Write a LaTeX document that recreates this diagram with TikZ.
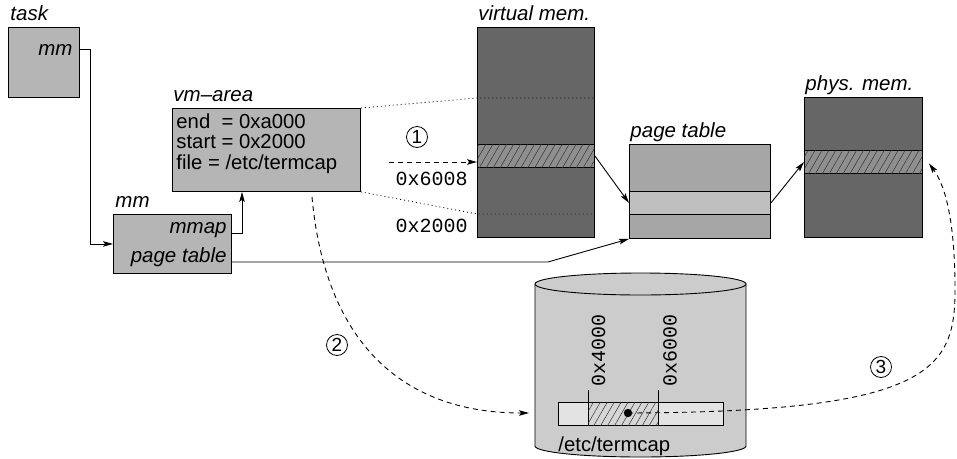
\documentclass[tikz,border=0pt]{standalone}
\usepackage{fontspec}
\setmainfont{Liberation Sans}
\setmonofont{Liberation Mono}
\usetikzlibrary{patterns.meta,arrows.meta}

\definecolor{boxgray}{gray}{0.71}
\definecolor{memgray}{gray}{0.40}
\definecolor{bandgray}{gray}{0.56}
\definecolor{ptgray}{gray}{0.65}
\definecolor{ptlight}{gray}{0.75}
\definecolor{diskgray}{gray}{0.80}
\definecolor{barlight}{gray}{0.89}
\definecolor{barhatch}{gray}{0.84}

\begin{document}
\begin{tikzpicture}[x=1pt, y=-1pt, line width=0.9pt,
    font=\fontsize{20.3}{24}\selectfont,
    box/.style={draw, fill=boxgray, inner sep=0, anchor=north west},
    mem/.style={draw, inner sep=0, anchor=north west},
    hatch/.style={pattern={Lines[angle=60, distance=6pt, line width=0.5pt]}, pattern color=black!80},
    title/.style={font=\fontsize{20.5}{24}\selectfont\itshape, anchor=base west, inner sep=0},
    field/.style={font=\fontsize{20.5}{24}\selectfont\itshape, anchor=base east, inner sep=0},
    line/.style={anchor=base west, inner sep=0},
    addr/.style={font=\fontsize{20}{24}\selectfont\ttfamily, inner sep=0},
    num/.style={circle, draw, line width=0.8pt, inner sep=0, minimum size=21pt, font=\fontsize{19}{20}\selectfont},
    arr/.style={-{Stealth[length=10pt, width=5.5pt, inset=2pt]}},
    dashline/.style={dash pattern=on 5pt off 4pt},
    dots/.style={line width=0.9pt, dash pattern=on 0.9pt off 3.1pt}]
    \useasboundingbox (0,0) rectangle (957,458);

    % task and mm structures
    \node[box, minimum width=71, minimum height=70] (task) at (8,27) {};
    \node[title] at (10,20) {task};
    \node[field] (tmm) at (73,55) {mm};
    \node[box, minimum width=118, minimum height=59] (mm) at (113,214) {};
    \node[title] at (115,207) {mm};
    \node[field] (mmap) at (227,233) {mmap};
    \node[field] (ptab) at (227,262) {page table};

    % vm-area
    \node[box, minimum width=188, minimum height=83] (vma) at (172,108) {};
    \node[title] at (173,101) {vm--area};
    \node[line] at (176,128) {end\ \ = 0xa000};
    \node[line] at (176,148) {start = 0x2000};
    \node[line] at (176,169) {file = /etc/termcap};

    % virtual memory
    \node[mem, fill=memgray, minimum width=117, minimum height=210] (vmem) at (477,27) {};
    \node[mem, fill=bandgray, postaction={hatch}, minimum width=117, minimum height=23] (vband) at (477,144) {};
    \node[title] at (478,20) {virtual mem.};
    \node[addr, anchor=base east] at (468,185) {0x6008};
    \node[addr, anchor=base east] at (468,232) {0x2000};

    % page table
    \node[mem, fill=ptgray, minimum width=141, minimum height=94] (ptbl) at (629,144) {};
    \node[mem, fill=ptlight, minimum width=141, minimum height=23] (pband) at (629,191) {};
    \node[title] at (630,137) {page table};

    % physical memory
    \node[mem, fill=memgray, minimum width=118, minimum height=140] (pmem) at (804,97) {};
    \node[mem, fill=bandgray, postaction={hatch}, minimum width=118, minimum height=23] (pmband) at (804,150) {};
    \node[title] at (805,90) {phys. mem.};

    % disk with the file
    \draw[fill=diskgray] (535,284) -- (535,446)
        arc[start angle=180, end angle=0, x radius=105.5, y radius=11] -- (746,284);
    \draw[fill=diskgray] (640.5,284) ellipse[x radius=105.5, y radius=11];
    \node[mem, fill=barlight, minimum width=165, minimum height=23] (fbar) at (558,402) {};
    \node[mem, fill=barhatch, postaction={hatch}, minimum width=70, minimum height=23] (fpart) at (588,402) {};
    \draw (fpart.north west) -- ++(0,-12);
    \draw (fpart.north east) -- ++(0,-12);
    \node[addr, rotate=90, anchor=west] at (598.5,387) {0x4000};
    \node[addr, rotate=90, anchor=west] at (670,387) {0x6000};
    \node[anchor=base west, inner sep=0] at (558,451) {/etc/termcap};
    \fill (628,413) circle[radius=4.2] coordinate (dot);

    % free ends of the dashed connectors
    \coordinate (vtop) at (477,98);
    \coordinate (vbot) at (477,214);
    \coordinate (fault) at (389,162);
    \coordinate (fileref) at (312,197);
    \coordinate (diskin) at (529,413);

    % Pointers
    \draw[arr] (task.east |- tmm) -| ([xshift=-23pt]mm.west) -- (mm.west);
    \draw[arr] (mm.east |- mmap.base) -| ([xshift=70pt]vma.south west);
    \draw[arr] (mm.east |- ptab.base) -- ++(316,0) -- (ptbl.south west);
    \draw[arr] (vband.east) -- (pband.west);
    \draw[arr] (pband.east) -- (pmband.west);
    \foreach \a/\b in {vma.north east/vtop, vma.south east/vbot}
        \draw[dots] (\a) -- (\b) -- (\b -| vmem.east);

    % Steps
    \draw[arr, dashline] (fault) -- (vband.west |- fault);
    \node[num] (n1) at (417,137) {1};
    \draw[arr, dashline] (fileref) .. controls (325,340) and (400,413) .. (diskin);
    \node[num] (n2) at (337,345) {2};
    \draw[arr, dashline] (dot) .. controls (930,412) and (955,370) .. (955,290)
        .. controls (955,220) and (945,185) .. ([xshift=6pt,yshift=-1.5pt]pmband.east);
    \node[num] (n3) at (881,367) {3};
\end{tikzpicture}
\end{document}
